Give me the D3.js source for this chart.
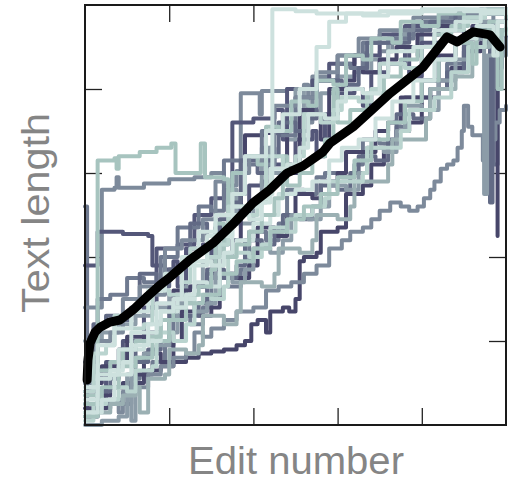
<!DOCTYPE html>
<html><head><meta charset="utf-8">
<script src="https://cdn.jsdelivr.net/npm/d3@7"></script>
<style>html,body{margin:0;padding:0;background:#fff;}svg{display:block;}</style>
</head><body>
<svg id="chart" width="511" height="482"></svg>
<script>
// Axis ticks (no labels shown)
const xTicks = [20, 40, 60, 80];
const yTicks = [20, 40, 60, 80];
const xLabel = "Edit number";
const yLabel = "Text length";

// Colour ramp for the histories (dark slate -> pale teal)
const palette = ["#47466a","#545779","#626a85","#6f7a90","#7d8a9b","#8c9ca8","#9bb0b3","#a7c4bf","#bad4cf","#cde1de"];

// Individual article histories: [edit (0-100), text length (0-100)]
const a01 = [[0,2],[3,2],[3,63],[7,63.5],[7.5,61],[8,64],[13,65],[17,66],[20.5,67],[21.5,60],[26,60],[27.5,67],[28.5,59],[33,58.5],[34,52],[35,60],[38,64],[41,62],[43,71],[46,70],[49,77],[53,76],[55,82],[59,81],[62,88],[66,87],[68,92],[73,91],[75,96],[80,95],[84,98],[90,97],[95,98.5],[100,97]];
const a02 = [[0,28],[4,30],[4,56],[7,56.5],[7.5,59],[8,56.5],[14,57.5],[20,58.5],[26,59],[30,60],[33,57],[36,60.5],[37,79],[41,79],[41.5,74],[42,79.5],[48,80],[52,81],[53,72],[54,83],[58,82],[60,88],[66,88.5],[67,84],[70,89],[73,93],[78,93],[79,88],[80,96],[88,97],[93,98],[97,96],[100,97]];
const a03 = [[0,38],[3,38],[3,46],[9,45.5],[15,45],[16,38],[19,37],[21,39],[22,33],[24,42],[28,43],[30,40],[31,47],[34,48],[36,55],[37,50],[39,57],[42,58],[44,66],[45,62],[48,61],[50,68],[54,70],[55,64],[57,74],[60,79],[64,80],[66,76],[68,84],[72,86],[76,89],[77,83],[80,91],[85,94],[90,92],[94,96],[97,93],[100,95]];
const a04 = [[0,10],[4,14],[8,15],[10,21],[15,22],[18,25],[21,32],[25,33],[29,36],[32,40],[35,44],[37,55],[38,69],[43,69.5],[47,70],[48,62],[49,60],[51,75],[55,74],[56,68],[58,80],[62,82],[64,88],[66,84],[70,87],[74,90],[79,93],[84,95],[89,97],[94,98],[100,97]];
const a05 = [[0,4],[3,7],[6,9],[9,10],[11,8],[12,12],[15,13],[18,14],[21,15],[24,16],[27,17],[30,17.5],[33,18],[36,19],[38,20],[39.5,24],[41,25],[43,22],[44,27],[47,28],[48.5,27],[50,30],[51,39],[52,40],[55,41],[56,46],[60,47],[62,55],[66,57],[68,62],[71,66],[74,70],[77,72],[80,78],[84,82],[87,85],[90,89],[94,91],[96,93],[98.5,85],[99,90],[100,89]];
const a06 = [[0,3],[3,5],[6,6],[8,3],[9,8],[12,9],[15,12],[18,14],[21,16],[24,17],[26,22],[28,21],[30,23],[33,25],[36,27],[40,28],[43,32],[46,33],[49,34],[52,36],[55,38],[58,42],[61,44],[63,46],[66,47],[68,49],[70,51],[72.5,53],[75,52],[77,51],[79,52],[80.5,54],[82,56],[83,58],[84.5,61],[86,62],[87.5,63],[88.5,66],[89.5,70],[90,76],[91,71],[92,69],[94.5,63],[96,68],[97.5,72],[98.5,75],[100,76]];
const a07 = [[0,2],[3,4],[5,9],[9,9],[12,10],[14,17],[18,15],[21,20],[23,27],[27,26],[30,28],[32,36],[36,35],[39,38],[41,47],[45,45],[48,50],[50,55],[54,54],[56,58],[60,60],[62,65],[66,65],[69,70],[72,72],[75,78],[80,82],[84,88],[88,92],[92,95],[95,93],[97.5,90],[98,45]];
const a08 = [[0,6],[3,12],[6,12],[8,18],[12,19],[15,24],[18,27],[21,30],[23,38],[27,38],[29,45],[33,45],[35,52],[39,52],[42,54],[44,55],[44.5,99],[50,98.5],[55,98],[60,98],[66,97.5],[72,98],[80,98.5],[88,99],[95,98.5],[100,99]];
const a09 = [[0,1],[2,5],[5,6],[8,9],[10,8],[12,13],[16,14],[17,22],[21,20],[24,24],[26,31],[30,30],[33,33],[34,41],[39,40],[42,43],[44,47],[48,46],[50,50],[54,52],[57,54],[58,58],[63,58],[66,60],[67,66],[72,66],[75,70],[77,75],[83,78],[87,84],[91,90],[95,93],[100,96]];
const a10 = [[0,8],[2,17],[5,19],[7,26],[11,23],[14,24],[16,32],[20,31],[23,34],[25,42],[29,40],[32,43],[34,52],[38,50],[41,53],[43,64],[47,61],[50,64],[52,74],[56,72],[59,75],[61,78],[65,77],[68,80],[70,86],[76,85],[80,90],[85,94],[90,97],[95,99],[100,98]];
const a11 = [[0,0],[4,1],[8,2],[10,12],[11,1],[12,16],[14,17],[17,19],[20,22],[22,29],[26,27],[29,29],[31,36],[35,34],[38,37],[40,42],[44,41],[47,44],[49,50],[53,49],[56,52],[58,57],[62,56],[65,60],[67,66],[71,65],[74,70],[76,76],[80,75],[84,82],[88,87],[91,92],[94.8,55],[95.5,88],[100,92]];
const a12 = [[0,52],[0.5,3],[3,4],[6,6],[9,5],[11,11],[13,12],[16,15],[19,19],[21,26],[25,24],[28,28],[30,35],[34,33],[37,37],[39,46],[43,44],[46,48],[48,56],[52,55],[55,59],[57,60],[61,59],[64,62],[66,68],[70,67],[74,71],[76,78],[82,80],[86,86],[90,92],[94,95],[97,62],[98,94],[100,95]];
const a13 = [[0,12],[2,24],[5,26],[8,25],[11,28],[13,36],[17,33],[20,37],[23,39],[25,48],[29,45],[32,49],[35,53],[37,63],[41,60],[44,64],[46,72],[50,70],[53,73],[55,82],[61,81],[65,85],[67,91],[73,91],[77,94],[82,96],[88,98],[94,99],[100,98]];
const a14 = [[0,5],[3,8],[6,11],[8,18],[12,15],[15,18],[18,20],[20,28],[24,26],[27,29],[29,37],[33,35],[36,38],[38,44],[42,43],[45,46],[47,50],[51,49],[54,52],[56,57],[60,56],[63,60],[65,64],[69,63],[72,68],[74,74],[78,73],[82,80],[86,84],[90,90],[93,94],[96.2,53],[96.8,90],[100,93]];
const a15 = [[0,3],[3,11],[6,13],[9,15],[11,22],[15,22],[17,29],[21,28],[24,31],[26,39],[30,38],[33,41],[35,50],[39,49],[42,53],[44,61],[48,62],[51,66],[53,74],[57,73],[60,77],[62,80],[66,79],[70,83],[72,89],[78,90],[83,94],[88,96],[94,98],[100,99]];
const a16 = [[0,20],[4,22],[8,24],[12,26],[16,28],[20,31],[24,33],[28,39],[32,43],[34,56],[36,48],[40,53],[42,66],[44,60],[48,68],[50,80],[52,74],[56,79],[60,83],[64,84],[68,87],[72,91],[76,94],[82,96],[88,97],[94,96],[100,98]];
const a17 = [[0,7],[3,13],[6,15],[9,18],[12,20],[15,21],[18,25],[21,28],[24,31],[27,33],[30,37],[31,48],[33,40],[36,43],[39,46],[42,50],[45,54],[47,64],[48,57],[51,60],[54,64],[57,68],[59,80],[60,72],[63,75],[67,79],[71,83],[75,87],[79,90],[83,93],[87,95],[91,97],[95,98],[100,97]];
const a18 = [[0,2],[3,3],[6,5],[9,7],[12,9],[13,3],[15,11],[19,12],[20,18],[24,17],[27,19],[28,26],[33,24],[36,27],[37,34],[42,33],[45,36],[46,42],[51,41],[54,44],[55,50],[60,49],[63,52],[64,58],[69,58],[72,62],[73,68],[78,68],[81,73],[82,80],[88,83],[92,90],[96,94],[100,96]];
const a19 = [[0,15],[3,30],[6,31],[10,35],[14,34],[18,40],[22,47],[27,52],[30,51],[33,63],[38,62],[42,70],[46,69],[50,78],[55,82],[60,86],[63,85],[66,91],[72,92],[78,96],[85,97],[92,98],[100,97]];
const a20 = [[0,8],[5,15],[9,20],[14,28],[17,42],[22,43],[26,50],[30,54],[33,56],[35,72],[40,73],[45,75],[47,68],[48,80],[54,82],[58,86],[64,88],[70,93],[76,95],[84,97],[90,98],[100,98]];
const a21 = [[0,10],[2,20],[6,22],[9,30],[13,33],[16,31],[19,42],[23,44],[28,49],[31,58],[35,60],[39,64],[42,62],[45,76],[50,78],[55,84],[60,88],[65,92],[70,94],[78,97],[86,98],[94,99],[100,99]];
const a22 = [[0,3],[4,6],[7,12],[11,18],[14,20],[18,27],[22,30],[26,34],[29,33],[32,40],[36,44],[40,48],[44,50],[46,55],[50,56],[54,58],[58,63],[61,66],[65,68],[69,73],[73,77],[78,82],[83,87],[88,92],[93,95],[97,88],[98,96],[100,95]];
const a23 = [[0,9],[3,19],[7,23],[11,27],[15,32],[19,36],[23,40],[27,46],[31,50],[35,55],[38,64],[43,70],[47,74],[51,80],[55,90],[58,96],[62,98],[70,98.5],[80,99],[90,98.5],[100,99]];
const a24 = [[0,5],[4,9],[8,14],[12,16],[16,20],[20,25],[24,29],[28,31],[32,36],[36,39],[40,42],[44,46],[48,49],[52,52],[56,55],[60,59],[64,63],[68,68],[72,72],[76,77],[80,82],[84,87],[88,91],[92,86],[93,94],[96,96],[98,80],[99,94],[100,95]];

// drawing order (darker first, paler on top) and colour index of each
const seriesList  = [a12, a05, a02, a20, a03, a16, a07, a04, a06, a14, a11, a19, a13, a21, a18, a09, a24, a22, a01, a17, a10, a15, a23, a08];
const seriesColor = [3,   0,   4,   1,   1,   5,   0,   0,   4,   2,   5,   3,   2,   4,   6,   8,   7,   9,   7,   7,   8,   9,   9,   9];

// Average text length
const meanLine = [[0.5,10.7],[0.7,15.5],[1.2,19.5],[2.4,22.1],[3.6,23.3],[5.9,24.5],[8.3,25],[11.4,27.4],[14.7,30.5],[17.8,33.3],[20.2,35.2],[24.9,39.3],[30.4,43.3],[34.9,47.6],[39.9,52.9],[43.9,56],[48,60],[51.8,61.7],[56.5,65],[58.2,67.1],[63.7,71],[72.5,79],[80.3,85.2],[86,92.4],[88.4,91.2],[92.2,93.6],[96.2,92.9],[98.6,90]];

const svg = d3.select("#chart");
const x = d3.scaleLinear().domain([0, 100]).range([85, 506]);
const y = d3.scaleLinear().domain([0, 100]).range([425, 5]);

// inward ticks on all four sides, under the lines
const tickLen = 17;
function styleAxis(g){ g.select(".domain").remove(); g.selectAll(".tick line").attr("stroke","#222").attr("stroke-width",1.3); g.selectAll("text").remove(); }
svg.append("g").attr("transform","translate(0,425)").call(d3.axisBottom(x).tickValues(xTicks).tickSize(-tickLen).tickFormat("")).call(styleAxis);
svg.append("g").attr("transform","translate(0,5)").call(d3.axisTop(x).tickValues(xTicks).tickSize(-tickLen).tickFormat("")).call(styleAxis);
svg.append("g").attr("transform","translate(85,0)").call(d3.axisLeft(y).tickValues(yTicks).tickSize(-tickLen).tickFormat("")).call(styleAxis);
svg.append("g").attr("transform","translate(506,0)").call(d3.axisRight(y).tickValues(yTicks).tickSize(-tickLen).tickFormat("")).call(styleAxis);

const stepLine = d3.line().x(d => x(d[0])).y(d => y(d[1])).curve(d3.curveStepAfter);
svg.append("g").selectAll("path").data(seriesList).join("path")
  .attr("d", stepLine)
  .attr("fill","none")
  .attr("stroke",(d,i) => palette[seriesColor[i]])
  .attr("stroke-width",4)
  .attr("stroke-linejoin","round")
  .attr("stroke-linecap","round");

const smooth = d3.line().x(d => x(d[0])).y(d => y(d[1])).curve(d3.curveLinear);
svg.append("path").datum(meanLine).attr("d", smooth)
  .attr("fill","none").attr("stroke","#000").attr("stroke-width",9)
  .attr("stroke-linejoin","round").attr("stroke-linecap","round");

// frame
svg.append("rect").attr("x",85).attr("y",5).attr("width",421).attr("height",420)
  .attr("fill","none").attr("stroke","#1a1a1a").attr("stroke-width",2);

svg.append("text").attr("x",296).attr("y",474).attr("text-anchor","middle")
  .attr("font-family","Liberation Sans, Arial, sans-serif").attr("font-size",39)
  .attr("fill","#858585").attr("textLength",216).attr("lengthAdjust","spacingAndGlyphs")
  .text(xLabel);
svg.append("text").attr("transform","translate(49,213) rotate(-90)").attr("text-anchor","middle")
  .attr("font-family","Liberation Sans, Arial, sans-serif").attr("font-size",39)
  .attr("fill","#858585").attr("textLength",200).attr("lengthAdjust","spacingAndGlyphs")
  .text(yLabel);
</script>
</body></html>
